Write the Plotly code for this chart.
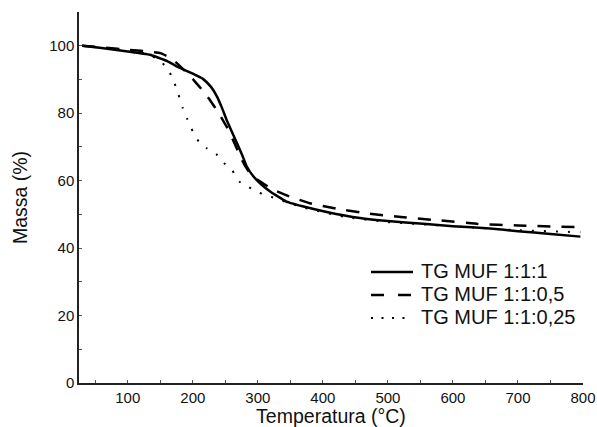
import plotly.graph_objects as go

# TG MUF 1:1:1 (solid)
t_111 = [30, 60, 100, 134, 160, 180, 200, 216, 228, 237, 245, 252, 260, 268, 276, 283, 293, 303, 320, 344, 375, 406, 457, 500, 554, 600, 657, 700, 750, 796]
m_111 = [100, 99.3, 98.3, 97.3, 95.5, 93.4, 91.7, 90.1, 87.8, 85, 81.5, 78, 74.5, 71.1, 67.5, 64.2, 61.3, 59.3, 56.6, 53.8, 52.1, 50.7, 48.9, 48.0, 47.2, 46.5, 45.8, 45.0, 44.2, 43.4]

# TG MUF 1:1:0,5 (dashed)
t_105 = [30, 60, 100, 130, 150, 165, 175, 188, 201, 214, 226, 240, 252, 262, 273, 280, 288, 300, 324, 350, 380, 420, 467, 520, 580, 637, 700, 790]
m_105 = [100, 99.5, 98.8, 98.3, 97.8, 96.5, 94.9, 92.5, 89.9, 87, 84, 80, 76, 72, 67.2, 64.5, 62.2, 60.2, 57.3, 55.2, 53.3, 51.7, 50.3, 49.2, 48.2, 47.2, 46.7, 46.2]

# TG MUF 1:1:0,25 (dotted)
t_1025 = [30, 60, 100, 130, 150, 162, 170, 178, 184.5, 191.6, 200, 210, 221.5, 236, 248, 260, 271.6, 285, 301, 319, 365, 432, 500, 600, 700, 796]
m_1025 = [100, 99.4, 98.5, 97.6, 95.5, 92.9, 89.9, 85.5, 81.5, 78.2, 74.6, 71.3, 69.6, 67.9, 65.2, 63.2, 59.7, 58.2, 56.5, 55.3, 52.3, 49.3, 47.7, 46.5, 45.3, 44.7]

series_names = ["TG MUF 1:1:1", "TG MUF 1:1:0,5", "TG MUF 1:1:0,25"]

x_ticks = [100, 200, 300, 400, 500, 600, 700, 800]
y_ticks = [0, 20, 40, 60, 80, 100]

FONT = "Liberation Sans, Arial, sans-serif"
W, H = 597, 427
ML, MR, MT, MB = 79, 14, 12, 44
PW, PH = W - ML - MR, H - MT - MB

styles = [
    dict(color="black", width=2.5),
    dict(color="black", width=2.5, dash="13px,11px"),
    dict(color="black", width=2, dash="2px,10px"),
]
legend_styles = [
    dict(color="black", width=2.5),
    dict(color="black", width=2.5, dash="13px,14px"),
    dict(color="black", width=2, dash="2px,8.5px"),
]

fig = go.Figure()
for (tx, my), name, st in zip([(t_111, m_111), (t_105, m_105), (t_1025, m_1025)], series_names, styles):
    fig.add_trace(go.Scatter(x=tx, y=my, mode="lines", name=name, showlegend=False,
                             line=dict(shape="spline", smoothing=0.35, **st)))

# legend drawn as shapes + text (to match compact row spacing)
def px_x(p):
    return (p - ML) / PW

def px_y(p):
    return (H - MB - p) / PH

row_y = [272, 295, 318]
for name, st, ry in zip(series_names, legend_styles, row_y):
    fig.add_shape(type="line", xref="paper", yref="paper",
                  x0=px_x(371), x1=px_x(413), y0=px_y(ry), y1=px_y(ry), line=st)
    fig.add_annotation(xref="paper", yref="paper", x=px_x(419), y=px_y(ry - 1),
                       xanchor="left", yanchor="middle", showarrow=False, text=name,
                       font=dict(family=FONT, size=20, color="#111"))

axis_common = dict(showgrid=False, zeroline=False, showline=True, linecolor="#222", linewidth=1.5,
                   ticks="inside", ticklen=3, tickcolor="#555", tickwidth=1, automargin=False,
                   tickfont=dict(family=FONT, size=15, color="#111"))

fig.update_layout(
    width=W, height=H,
    margin=dict(l=ML, r=MR, t=MT, b=MB),
    plot_bgcolor="white", paper_bgcolor="white",
    font=dict(family=FONT, color="#111"),
    showlegend=False,
    xaxis=dict(range=[25, 800], tickvals=x_ticks,
               minor=dict(dtick=50, tick0=0, ticks="inside", ticklen=3, tickcolor="#555"),
               title=dict(text="Temperatura (°C)", font=dict(family=FONT, size=19.5, color="#111"), standoff=11),
               **axis_common),
    yaxis=dict(range=[0, 110], tickvals=y_ticks,
               minor=dict(dtick=10, tick0=0, ticks="inside", ticklen=3, tickcolor="#555"),
               title=dict(text="Massa (%)", font=dict(family=FONT, size=19.5, color="#111"), standoff=16),
               **axis_common),
)

fig.write_html("out.html")
